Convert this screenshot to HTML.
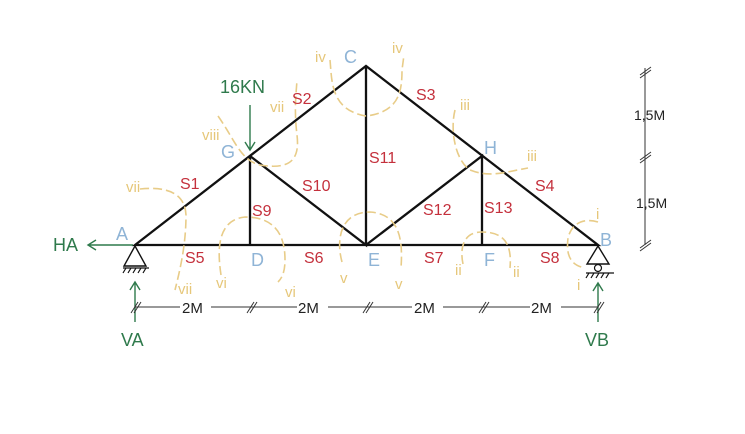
<!DOCTYPE html>
<html><head><meta charset="utf-8"><style>
html,body{margin:0;padding:0;background:#fff;}
svg{display:block;font-family:"Liberation Sans",sans-serif;}
.m{stroke:#111;stroke-width:2.3;fill:none;}
.r{fill:#c4303c;font-size:16px;}
.b{fill:#8fb4d6;font-size:18px;}
.g{fill:#2f7a4c;}
.y{fill:#e6c77a;font-size:15px;}
.cut{stroke:#e8cc88;stroke-width:1.6;fill:none;stroke-dasharray:9 4;}
.d{stroke:#333;stroke-width:1;fill:none;}
</style></head><body>
<svg width="745" height="434" viewBox="0 0 745 434">
<!-- members -->
<g>
<path class="m" d="M135,245 L366,66 L598,245 Z"/>
<path class="m" d="M250,156 L250,245 M250,156 L366,245 L366,66 M366,245 L482,156 L482,245"/>
</g>
<!-- cut lines -->
<g>
<path class="cut" d="M140,189 C170,186 185,195 186,215 C186,245 180,270 175,290"/>
<path class="cut" d="M218,116 C235,140 240,160 260,165 C290,170 300,160 297,135 C294,110 296,95 297,80"/>
<path class="cut" d="M330,60 C332,80 330,110 366,116 C400,112 402,90 402,70 L404,55"/>
<path class="cut" d="M221,275 C218,255 215,220 245,217 C275,217 285,235 285,260 C285,275 280,280 278,282"/>
<path class="cut" d="M342,262 C336,240 340,212 370,212 C400,214 403,240 401,268"/>
<path class="cut" d="M463,264 C460,250 462,232 482,232 C505,232 512,245 510,268"/>
<path class="cut" d="M455,110 C450,130 455,160 470,170 C490,178 505,172 528,168"/>
<path class="cut" d="M598,222 C585,218 572,222 568,238 C566,255 570,265 585,268"/>
</g>
<!-- supports -->
<g>
<path d="M135,246 L124,266 L146,266 Z" fill="#fff" stroke="#111" stroke-width="1.4"/>
<path d="M123,268 L149,268 M126,268 l-3,5 M131,268 l-3,5 M136,268 l-3,5 M141,268 l-3,5 M146,268 l-3,5" stroke="#111" stroke-width="1.2"/>
</g>
<g>
<path d="M598,246 L587,264 L609,264 Z" fill="#fff" stroke="#111" stroke-width="1.4"/>
<circle cx="598" cy="268" r="3.5" fill="#fff" stroke="#111" stroke-width="1.2"/>
<path d="M586,273 L614,273 M589,273 l-3,5 M594,273 l-3,5 M599,273 l-3,5 M604,273 l-3,5 M609,273 l-3,5" stroke="#111" stroke-width="1.2"/>
</g>
<!-- forces -->
<g stroke="#2f7a4c" stroke-width="1.4" fill="none">
<path d="M250,105 L250,150 M245,142 L250,150 L255,142"/>
<path d="M133,245 L88,245 M96,240 L88,245 L96,250"/>
<path d="M135,322 L135,282 M130,290 L135,282 L140,290"/>
<path d="M598,322 L598,283 M593,291 L598,283 L603,291"/>
</g>
<text class="g" x="220" y="93" font-size="18">16KN</text>
<text class="g" x="53" y="251" font-size="18">HA</text>
<text class="g" x="121" y="346" font-size="18">VA</text>
<text class="g" x="585" y="346" font-size="18">VB</text>
<!-- dimensions -->
<g>
<path class="d" d="M135,307 L180,307 M211,307 L297,307 M328,307 L412,307 M443,307 L530,307 M561,307 L598,307"/>
<path class="d" d="M131,313 l7,-11 M134,313 l7,-11 M247,313 l7,-11 M250,313 l7,-11 M363,313 l7,-11 M366,313 l7,-11 M479,313 l7,-11 M482,313 l7,-11 M594,313 l7,-11 M597,313 l7,-11"/>
<text x="182" y="313" font-size="15" fill="#222">2M</text>
<text x="298" y="313" font-size="15" fill="#222">2M</text>
<text x="414" y="313" font-size="15" fill="#222">2M</text>
<text x="531" y="313" font-size="15" fill="#222">2M</text>
</g>
<g>
<path class="d" d="M645,68 L645,245"/>
<path class="d" d="M640,75 l11,-8 M640,78 l11,-8 M640,160 l11,-8 M640,163 l11,-8 M640,248 l11,-8 M640,251 l11,-8"/>
<text x="634" y="120" font-size="14" fill="#222">1,5M</text>
<text x="636" y="208" font-size="14" fill="#222">1,5M</text>
</g>
<!-- node labels -->
<g>
<text class="b" x="116" y="240">A</text>
<text class="b" x="344" y="63">C</text>
<text class="b" x="221" y="158">G</text>
<text class="b" x="484" y="154">H</text>
<text class="b" x="251" y="266">D</text>
<text class="b" x="368" y="266">E</text>
<text class="b" x="484" y="266">F</text>
<text class="b" x="600" y="246">B</text>
</g>
<!-- member labels -->
<g>
<text class="r" x="180" y="189">S1</text>
<text class="r" x="292" y="104">S2</text>
<text class="r" x="416" y="100">S3</text>
<text class="r" x="535" y="191">S4</text>
<text class="r" x="185" y="263">S5</text>
<text class="r" x="304" y="263">S6</text>
<text class="r" x="424" y="263">S7</text>
<text class="r" x="540" y="263">S8</text>
<text class="r" x="252" y="216">S9</text>
<text class="r" x="302" y="191">S10</text>
<text class="r" x="369" y="163">S11</text>
<text class="r" x="423" y="215">S12</text>
<text class="r" x="484" y="213">S13</text>
</g>
<!-- cut labels -->
<g>
<text class="y" x="126" y="192">vii</text>
<text class="y" x="178" y="294">vii</text>
<text class="y" x="202" y="140">viii</text>
<text class="y" x="270" y="112">vii</text>
<text class="y" x="315" y="62">iv</text>
<text class="y" x="392" y="53">iv</text>
<text class="y" x="216" y="288">vi</text>
<text class="y" x="285" y="297">vi</text>
<text class="y" x="340" y="283">v</text>
<text class="y" x="395" y="289">v</text>
<text class="y" x="460" y="110">iii</text>
<text class="y" x="527" y="161">iii</text>
<text class="y" x="455" y="275">ii</text>
<text class="y" x="513" y="277">ii</text>
<text class="y" x="596" y="219">i</text>
<text class="y" x="577" y="290">i</text>
</g>
</svg>
</body></html>
